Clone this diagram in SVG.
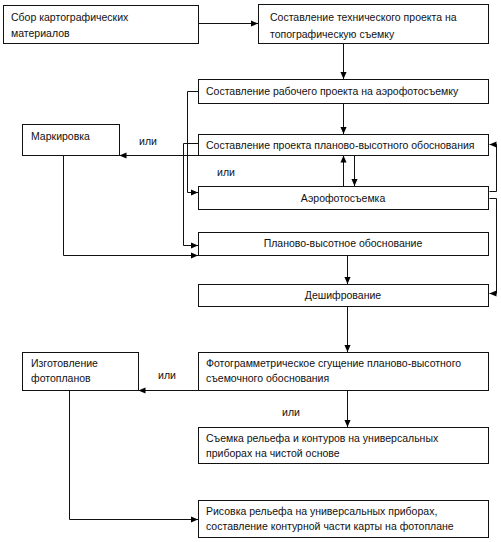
<svg xmlns="http://www.w3.org/2000/svg" width="501" height="542" viewBox="0 0 501 542">
<defs>
<marker id="ah" viewBox="0 0 8 8" refX="8" refY="4" markerWidth="7" markerHeight="7" markerUnits="userSpaceOnUse" orient="auto">
<path d="M0,0.5 L8,4 L0,7.5 Z" fill="#000"/>
</marker>
</defs>
<style>
.box{fill:#fff;stroke:#111;stroke-width:1}
.t{font-family:"Liberation Sans",Arial,sans-serif;font-size:10.5px;fill:#111}
.c{text-anchor:middle}
.ln{fill:none;stroke:#111;stroke-width:1}
.ar{fill:none;stroke:#111;stroke-width:1;marker-end:url(#ah)}
</style>
<rect width="501" height="542" fill="#fff"/>
<g id="connectors">
<path class="ar" d="M198.5,23.5 H258"/>
<path class="ar" d="M343.5,43.5 V79"/>
<path class="ar" d="M343.5,103.5 V134"/>
<path class="ar" d="M198.5,91.5 H187.5 V192.5 H198"/>
<path class="ar" d="M198.5,143.5 H183.5 V245.5 H198"/>
<path class="ar" d="M198.5,155.5 H119.5"/>
<path class="ar" d="M63.5,155.5 V255.5 H198"/>
<path class="ar" d="M343.5,186.5 V155.5"/>
<path class="ar" d="M354.5,155.5 V186"/>
<path class="ar" d="M489.5,191.5 H496.5 V144.5 H489.5"/>
<path class="ar" d="M489.5,198.5 H496.5 V293.5 H489.5"/>
<path class="ar" d="M347.5,255.5 V284"/>
<path class="ar" d="M347.5,306.5 V352"/>
<path class="ar" d="M198.5,390.5 H138.5"/>
<path class="ar" d="M69.5,390.5 V519.5 H198"/>
<path class="ar" d="M347.5,390.5 V427"/>
<text class="t c" x="148" y="145">или</text>
<text class="t c" x="226" y="176">или</text>
<text class="t c" x="167" y="379">или</text>
<text class="t c" x="291" y="416">или</text>
</g>
<g id="n1"><rect class="box" x="3.5" y="5.5" width="195" height="38"/>
<text class="t" x="11" y="21">Сбор картографических</text><text class="t" x="11" y="37">материалов</text></g>
<g id="n2"><rect class="box" x="258.5" y="4.5" width="230" height="39"/>
<text class="t" x="270" y="21">Составление технического проекта на</text><text class="t" x="270" y="38">топографическую съемку</text></g>
<g id="n3"><rect class="box" x="198.5" y="79.5" width="290" height="24"/>
<text class="t" x="206" y="95">Составление рабочего проекта на аэрофотосъемку</text></g>
<g id="n4"><rect class="box" x="22.5" y="124.5" width="97" height="31"/>
<text class="t" x="31" y="140">Маркировка</text></g>
<g id="n5"><rect class="box" x="198.5" y="134.5" width="290" height="21"/>
<text class="t" x="206" y="149">Составление проекта планово-высотного обоснования</text></g>
<g id="n6"><rect class="box" x="198.5" y="186.5" width="290" height="23"/>
<text class="t c" x="343" y="202">Аэрофотосъемка</text></g>
<g id="n7"><rect class="box" x="198.5" y="232.5" width="290" height="23"/>
<text class="t c" x="343" y="247">Планово-высотное обоснование</text></g>
<g id="n8"><rect class="box" x="198.5" y="284.5" width="290" height="22"/>
<text class="t c" x="343" y="299">Дешифрование</text></g>
<g id="n9"><rect class="box" x="22.5" y="352.5" width="116" height="38"/>
<text class="t" x="31" y="367">Изготовление</text><text class="t" x="31" y="382">фотопланов</text></g>
<g id="n10"><rect class="box" x="198.5" y="352.5" width="290" height="38"/>
<text class="t" x="206" y="367">Фотограмметрическое сгущение планово-высотного</text><text class="t" x="206" y="382">съемочного обоснования</text></g>
<g id="n11"><rect class="box" x="198.5" y="427.5" width="290" height="36"/>
<text class="t" x="206" y="442">Съемка рельефа и контуров на универсальных</text><text class="t" x="206" y="457">приборах на чистой основе</text></g>
<g id="n12"><rect class="box" x="198.5" y="500.5" width="290" height="37"/>
<text class="t" x="206" y="515">Рисовка рельефа на универсальных приборах,</text><text class="t" x="206" y="530">составление контурной части карты на фотоплане</text></g>
</svg>
